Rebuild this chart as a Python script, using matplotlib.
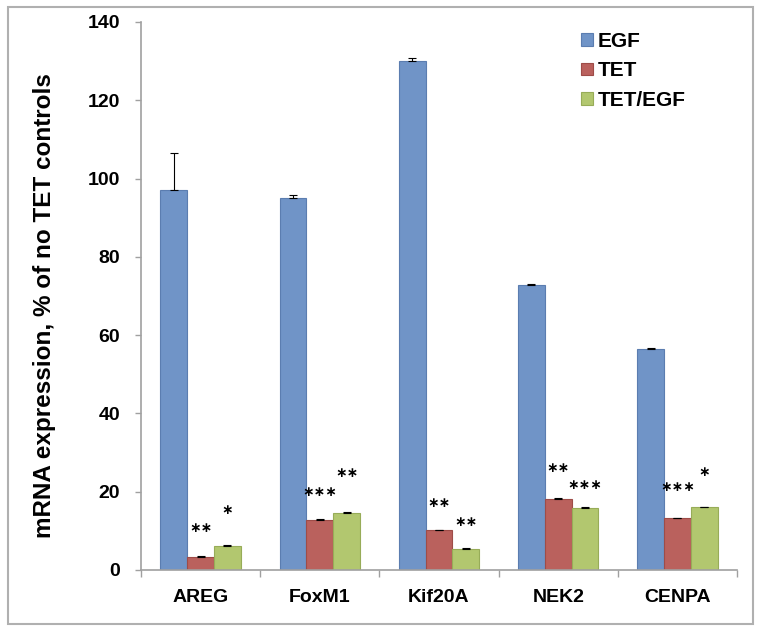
import matplotlib
matplotlib.use("Agg")
import matplotlib.pyplot as plt
import numpy as np
from matplotlib.patches import Rectangle

categories = ["AREG", "FoxM1", "Kif20A", "NEK2", "CENPA"]
series = ["EGF", "TET", "TET/EGF"]
egf = [97.2, 95.0, 130.0, 72.7, 56.5]
egf_err = [9.3, 0.9, 0.8, 0.3, 0.3]
tet = [3.2, 12.9, 10.1, 18.1, 13.2]
tet_err = [0.3, 0.2, 0.2, 0.2, 0.2]
tetegf = [6.2, 14.6, 5.3, 15.8, 16.0]
tetegf_err = [0.3, 0.2, 0.2, 0.2, 0.2]
tet_sig = ["**", "***", "**", "**", "***"]
tetegf_sig = ["*", "**", "**", "***", "*"]
tet_sig_y = [10.7, 20.0, 17.0, 26.0, 21.3]
tetegf_sig_y = [15.4, 24.7, 12.2, 21.8, 25.1]
yticks = [0, 20, 40, 60, 80, 100, 120, 140]

colors = ["#7094C7", "#BA615D", "#B2C76F"]
edges = ["#5B7DB0", "#9E4C48", "#97AC58"]

plt.rcParams['font.family'] = ['Liberation Sans', 'DejaVu Sans']

fig = plt.figure(figsize=(7.62, 6.32), dpi=100)
ax = fig.add_axes([141/762, 1-570/632, (737-141)/762, 548/632])

x = np.arange(len(categories))
w = 0.225
vals = [egf, tet, tetegf]
errs = [egf_err, tet_err, tetegf_err]
for i, (v, e) in enumerate(zip(vals, errs)):
    pos = x + (i - 1) * w
    lower = np.zeros(len(e))
    ax.bar(pos, v, width=w, color=colors[i], edgecolor=edges[i], linewidth=0.8,
           label=series[i], zorder=2)
    ax.errorbar(pos, v, yerr=[lower, e], fmt='none', ecolor='black',
                elinewidth=0.8, capsize=3, capthick=0.8, zorder=3)

def stars(s):
    return "\u2217" * len(s)

for i in range(len(categories)):
    ax.text(x[i], tet_sig_y[i], stars(tet_sig[i]), ha='center', va='center',
            fontsize=10, fontweight='bold', color='black', family='DejaVu Sans')
    ax.text(x[i] + w, tetegf_sig_y[i], stars(tetegf_sig[i]), ha='center', va='center',
            fontsize=10, fontweight='bold', color='black', family='DejaVu Sans')

ax.set_xlim(-0.5, len(categories) - 0.5)
ax.set_ylim(0, 140)
ax.set_yticks(yticks)
ax.set_yticklabels([str(t) for t in yticks], fontsize=14, fontweight='bold')
ax.set_xticks(x)
ax.set_xticklabels(categories, fontsize=14, fontweight='bold')
ax.set_xticks(np.arange(len(categories) + 1) - 0.5, minor=True)
ax.tick_params(axis='x', which='major', length=0, pad=14)
ax.tick_params(axis='x', which='minor', length=5, color='#A0A0A0', width=1)
ax.tick_params(axis='y', length=4, color='#A0A0A0', width=1, pad=11)
for s in ['top', 'right']:
    ax.spines[s].set_visible(False)
for s in ['left', 'bottom']:
    ax.spines[s].set_color('#A0A0A0')
    ax.spines[s].set_linewidth(1.2)

ax.set_ylabel("mRNA expression, % of no TET controls", fontsize=17.5, fontweight='bold')
ax.yaxis.set_label_coords(-0.143, 0.482)

leg = ax.legend(loc='upper left', bbox_to_anchor=(0.725, 0.997), frameon=False,
                fontsize=15, handlelength=0.55, handleheight=0.55, handletextpad=0.25,
                labelspacing=0.5, borderaxespad=0)
for t in leg.get_texts():
    t.set_fontweight('bold')

fig.patches.append(Rectangle((8/762, 1-624/632), (753-8)/762, (624-7)/632,
                             transform=fig.transFigure, fill=False,
                             edgecolor='#B0B0B0', linewidth=1.5))

fig.savefig("out.png", dpi=100)
